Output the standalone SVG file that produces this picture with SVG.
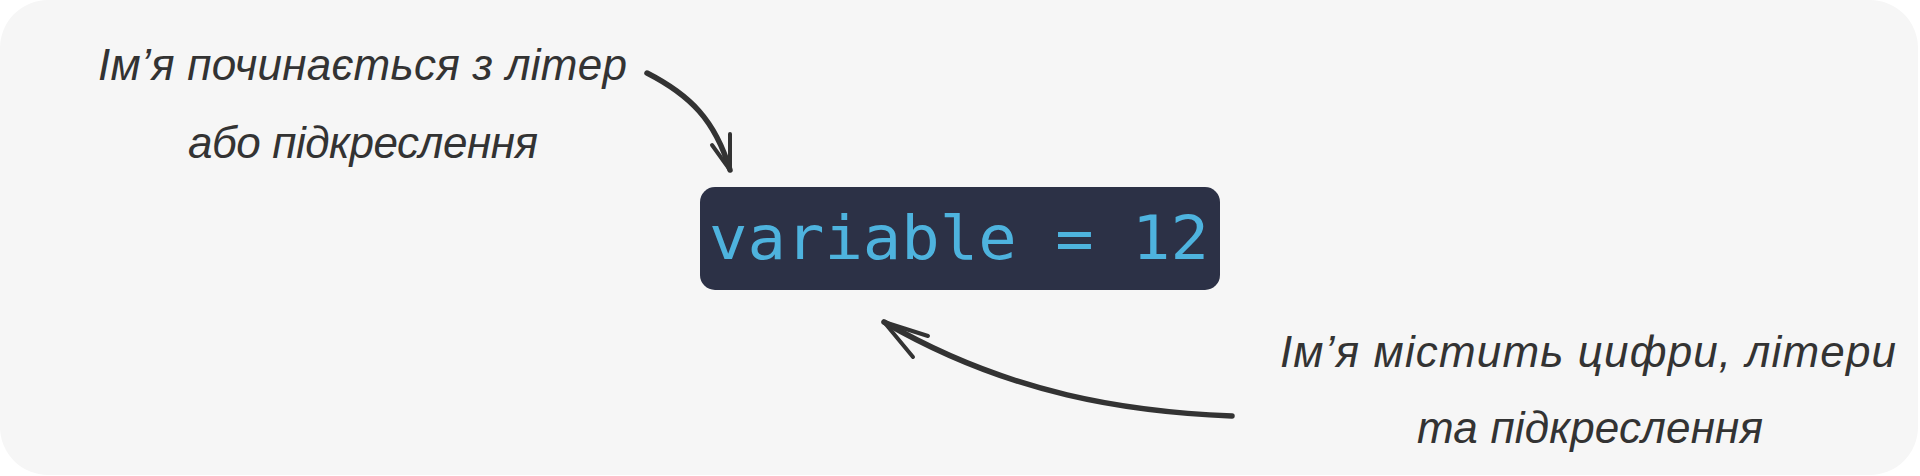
<svg xmlns="http://www.w3.org/2000/svg" width="1920" height="476" viewBox="0 0 1920 476">
  <style>
    .note { font-family: "Liberation Sans", "Noto Sans", sans-serif; font-style: italic; font-size: 44px; fill: #333333; }
    .code { font-family: "DejaVu Sans Mono", "Liberation Mono", monospace; font-size: 60px; fill: #4eb3de; }
    .conn { fill: none; stroke: #333333; stroke-width: 5.5; stroke-linecap: round; stroke-linejoin: round; }
    .barb { fill: none; stroke: #333333; stroke-width: 4; stroke-linecap: round; stroke-linejoin: round; }
  </style>
  <rect id="background" x="0" y="0" width="1918" height="475" rx="48" ry="48" fill="#f6f6f6"/>
  <g id="code-node">
    <rect x="700" y="187" width="520" height="103" rx="15" ry="15" fill="#2c3146"/>
    <text class="code" x="709" y="259" textLength="500" lengthAdjust="spacingAndGlyphs">variable = 12</text>
  </g>
  <g id="note-start">
    <text class="note" x="98" y="80" textLength="529" lengthAdjust="spacing">Ім’я починається з літер</text>
    <text class="note" x="188" y="158" textLength="350" lengthAdjust="spacing">або підкреслення</text>
  </g>
  <g id="note-contains">
    <text class="note" x="1280" y="367" textLength="616" lengthAdjust="spacing">Ім’я містить цифри, літери</text>
    <text class="note" x="1417" y="443" textLength="346" lengthAdjust="spacing">та підкреслення</text>
  </g>
  <g id="connectors">
    <path class="conn" d="M647,73 C690,95 715,120 730,170"/>
    <path class="barb" d="M712,145 L730,170 L730,134"/>
    <path class="conn" d="M1232,416 C1130,412 1010,395 884,322"/>
    <path class="barb" d="M928,336 L884,322 L913,357"/>
  </g>
</svg>
